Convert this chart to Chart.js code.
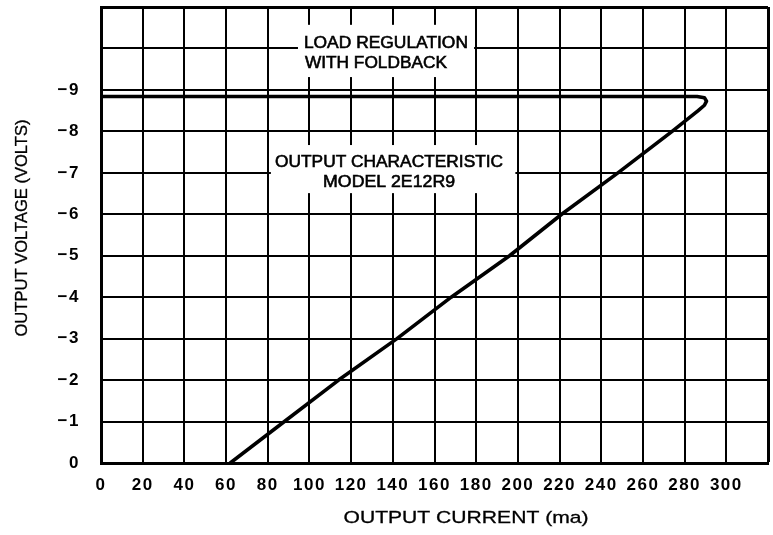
<!DOCTYPE html>
<html><head><meta charset="utf-8">
<script src="https://cdn.jsdelivr.net/npm/chart.js@4/dist/chart.umd.min.js"></script>
<style>html,body{margin:0;padding:0;background:#fff}canvas{display:block}</style>
</head><body>
<canvas id="c" width="773" height="535"></canvas>
<script>
// ---- data ----
const currentMa = [0, 286, 289.5, 290.5, 289.5, 286.5, 274, 248, 221, 196, 168, 142, 114, 88, 62];
const voltage   = [-8.84, -8.84, -8.81, -8.73, -8.63, -8.5, -8, -7, -6, -5, -4, -3, -2, -1, 0];
const xTickValues = [0, 20, 40, 60, 80, 100, 120, 140, 160, 180, 200, 220, 240, 260, 280, 300];
const yTickValues = [0, -1, -2, -3, -4, -5, -6, -7, -8, -9];
const xTitle = 'OUTPUT CURRENT (ma)';
const yTitle = 'OUTPUT VOLTAGE (VOLTS)';
const noteLines1 = ['LOAD REGULATION', 'WITH FOLDBACK'];
const noteLines2 = ['OUTPUT CHARACTERISTIC', 'MODEL 2E12R9'];

// ---- presentation ----
const BLACK = '#000';
const FONT = '"Liberation Sans", Arial, sans-serif';
const noteBoxes = [
  {x0: 94.5, x1: 179, y0: -10.57, y1: -9.31,
   lines: [{t: noteLines1[0], cx: 136.7, cy: -10.13, w: 78.7}, {t: noteLines1[1], cx: 131.9, cy: -9.65, w: 68.1}]},
  {x0: 81.5, x1: 198.8, y0: -7.67, y1: -6.51,
   lines: [{t: noteLines2[0], cx: 138.2, cy: -7.26, w: 109.4}, {t: noteLines2[1], cx: 138.2, cy: -6.78, w: 63.3}]}
];

function fitText(ctx, text, cx, cy, width, font, rot, stroke) {
  ctx.save();
  ctx.letterSpacing = '0px';
  ctx.font = font;
  ctx.fillStyle = BLACK;
  ctx.strokeStyle = BLACK;
  ctx.lineWidth = stroke;
  ctx.textAlign = 'center';
  ctx.textBaseline = 'middle';
  const m = ctx.measureText(text).width;
  ctx.translate(cx, cy);
  if (rot) ctx.rotate(rot);
  ctx.scale(width / m, 1);
  ctx.fillText(text, 0, 0);
  if (stroke > 0) ctx.strokeText(text, 0, 0);
  ctx.restore();
}

const spacingPlugin = {
  id: 'spacing',
  beforeLayout(chart) { chart.ctx.letterSpacing = '1.5px'; },
  beforeDraw(chart) { chart.ctx.letterSpacing = '1.5px'; }
};

const notesPlugin = {
  id: 'notes',
  beforeDatasetsDraw(chart) {
    const ctx = chart.ctx, xs = chart.scales.x, ys = chart.scales.y;
    noteBoxes.forEach(b => {
      const l = xs.getPixelForValue(b.x0), r = xs.getPixelForValue(b.x1);
      const t = ys.getPixelForValue(b.y0), btm = ys.getPixelForValue(b.y1);
      ctx.save();
      ctx.fillStyle = '#fff';
      ctx.fillRect(l, t, r - l, btm - t);
      ctx.restore();
      b.lines.forEach(ln => {
        const w = xs.getPixelForValue(ln.w) - xs.getPixelForValue(0);
        fitText(ctx, ln.t, xs.getPixelForValue(ln.cx), ys.getPixelForValue(ln.cy), w, '17px ' + FONT, 0, 0.6);
      });
    });
  },
  afterDraw(chart) {
    const ctx = chart.ctx;
    fitText(ctx, xTitle, 466, 518, 245, '17px ' + FONT, 0, 0.3);
    fitText(ctx, yTitle, 22, 228, 217, '17px ' + FONT, -Math.PI / 2, 0.3);
  }
};

const points = currentMa.map((x, i) => ({x: x, y: voltage[i]}));

new Chart(document.getElementById('c'), {
  type: 'line',
  data: {
    datasets: [{
      data: points,
      borderColor: BLACK,
      borderWidth: 3.6,
      pointRadius: 0,
      tension: 0,
      borderJoinStyle: 'round',
      borderCapStyle: 'round',
      fill: false
    }]
  },
  options: {
    responsive: false,
    animation: false,
    devicePixelRatio: 1,
    layout: {padding: {top: 7, right: 5, left: 0, bottom: 0}},
    plugins: {legend: {display: false}, tooltip: {enabled: false}},
    scales: {
      x: {
        type: 'linear', min: 0, max: 320,
        afterFit(s) { s.height = 72; s.paddingLeft = 0; s.paddingRight = 0; },
        afterBuildTicks(s) { s.ticks = xTickValues.concat([320]).map(v => ({value: v})); },
        ticks: {
          autoSkip: false, maxRotation: 0, padding: 12, color: BLACK,
          font: {family: FONT, size: 17, weight: 'bold'},
          callback: v => xTickValues.includes(v) ? String(v) : ''
        },
        grid: {
          color: BLACK, drawTicks: false,
          lineWidth: c => (c.tick && c.tick.value === 320) ? 3 : 2
        },
        border: {color: BLACK, width: 3}
      },
      y: {
        type: 'linear', min: -11, max: 0, reverse: true,
        afterFit(s) { s.width = 101; s.paddingTop = 0; s.paddingBottom = 0; },
        afterBuildTicks(s) { s.ticks = [-11, -10].concat(yTickValues.slice().reverse()).map(v => ({value: v})); },
        ticks: {
          autoSkip: false, padding: 21, color: BLACK,
          font: {family: FONT, size: 17, weight: 'bold'},
          callback: v => yTickValues.includes(v) ? (v === 0 ? '0' : '\u2212' + Math.abs(v)) : ''
        },
        grid: {
          color: BLACK, drawTicks: false,
          lineWidth: c => (c.tick && c.tick.value === -11) ? 3 : 2
        },
        border: {color: BLACK, width: 3}
      }
    }
  },
  plugins: [spacingPlugin, notesPlugin]
});
</script>
</body></html>
